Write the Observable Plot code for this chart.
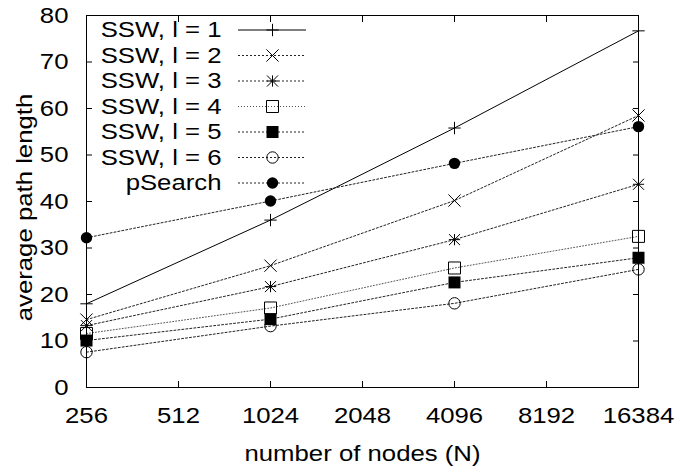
<!DOCTYPE html>
<html><head><meta charset="utf-8">
<script src="https://cdn.jsdelivr.net/npm/d3@7"></script>
<script src="https://cdn.jsdelivr.net/npm/@observablehq/plot@0.6"></script>
<style>html,body{margin:0;padding:0;background:#fff;}</style>
</head><body><div id="chart"></div>
<script>
// ---- data ----
const nodes = [256, 1024, 4096, 16384];
const xTicks = [256, 512, 1024, 2048, 4096, 8192, 16384];
const yTicks = [0, 10, 20, 30, 40, 50, 60, 70, 80];
const seriesNames = ["SSW, l = 1", "SSW, l = 2", "SSW, l = 3", "SSW, l = 4", "SSW, l = 5", "SSW, l = 6", "pSearch"];
const ssw1 = [18.0, 36.0, 55.8, 76.7];
const ssw2 = [14.6, 26.2, 40.2, 58.5];
const ssw3 = [13.3, 21.7, 31.8, 43.7];
const ssw4 = [11.6, 17.1, 25.7, 32.5];
const ssw5 = [10.1, 14.7, 22.6, 27.9];
const ssw6 = [7.6, 13.2, 18.1, 25.4];
const pSearch = [32.2, 40.1, 48.2, 56.1];
const xLabel = "number of nodes (N)";
const yLabel = "average path length";

// ---- styles ----
const seriesValues = [ssw1, ssw2, ssw3, ssw4, ssw5, ssw6, pSearch];
const dotStyles = [
  [{symbol: "plus", r: 4.07, fill: "none", stroke: "black"}],
  [{symbol: "times", r: 5.62, fill: "none", stroke: "black"}],
  [{symbol: "plus", r: 3.7, fill: "none", stroke: "black"}, {symbol: "times", r: 5.1, fill: "none", stroke: "black"}],
  [{symbol: "square", r: 6.77, fill: "none", stroke: "black"}],
  [{symbol: "square", r: 6.77, fill: "black", stroke: "none"}],
  [{symbol: "circle", r: 5.7, fill: "none", stroke: "black"}],
  [{symbol: "circle", r: 5.7, fill: "black", stroke: "none"}]
];
const dashes = [null, "2,2", "2,2", "1,2", "2,2", "2,2", "2,2"];
const lineColors = ["#000", "#222", "#222", "#555", "#222", "#222", "#222"];

const W = 680, H = 471, mL = 86, mR = 42, mT = 15, mB = 84;
const FONT = 22, SX = 1.17;

const xs = Plot.scale({x: {type: "log", base: 2, domain: [256, 16384], range: [mL, W - mR]}});
const ys = Plot.scale({y: {type: "linear", domain: [0, 80], range: [H - mB, mT]}});

const rows = seriesNames.map((name, s) => {
  const py = 29.5 + s * 25.5;
  return {name, y: ys.invert(py), xText: xs.invert(221), x1: xs.invert(238), x2: xs.invert(306), xm: xs.invert(272)};
});

const marks = [];
seriesNames.forEach((name, s) => {
  const pts = nodes.map((n, i) => ({n, v: seriesValues[s][i]}));
  const lineOpts = {stroke: lineColors[s], strokeWidth: 1};
  if (dashes[s]) lineOpts.strokeDasharray = dashes[s];
  marks.push(Plot.line(pts, {x: "n", y: "v", ...lineOpts}));
  marks.push(Plot.ruleY([rows[s]], {y: "y", x1: "x1", x2: "x2", ...lineOpts}));
});
seriesNames.forEach((name, s) => {
  const pts = nodes.map((n, i) => ({n, v: seriesValues[s][i]}));
  dotStyles[s].forEach(st => {
    marks.push(Plot.dot(pts, {x: "n", y: "v", strokeWidth: 1, ...st}));
    marks.push(Plot.dot([rows[s]], {x: "xm", y: "y", strokeWidth: 1, ...st}));
  });
});

const chart = Plot.plot({
  width: W, height: H,
  marginLeft: mL, marginRight: mR, marginTop: mT, marginBottom: mB,
  style: {fontFamily: "'Liberation Sans', Arial, Helvetica, sans-serif", fontSize: FONT + "px", background: "white", color: "black"},
  x: {type: "log", base: 2, domain: [256, 16384]},
  y: {type: "linear", domain: [0, 80]},
  marks: [
    Plot.axisX(xTicks, {anchor: "bottom", tickSize: -6, tickFormat: () => "", label: null}),
    Plot.axisX(xTicks, {anchor: "top", tickSize: -6, tickFormat: () => "", label: null}),
    Plot.axisY(yTicks, {anchor: "left", tickSize: -6, tickFormat: () => "", label: null}),
    Plot.axisY(yTicks, {anchor: "right", tickSize: -6, tickFormat: () => "", label: null}),
    Plot.axisX(xTicks, {anchor: "bottom", tickSize: 0, tickPadding: 20, tickFormat: d => String(d), label: null, fontSize: FONT}),
    Plot.axisY(yTicks, {anchor: "left", tickSize: 0, tickPadding: 18, tickFormat: d => String(d), label: null, fontSize: FONT}),
    Plot.text([xLabel], {text: d => d, frameAnchor: "bottom", dy: 73, lineAnchor: "bottom", textAnchor: "middle", fontSize: FONT}),
    Plot.text([yLabel], {text: d => d, frameAnchor: "left", rotate: -90, dx: -55, dy: 6, lineAnchor: "bottom", textAnchor: "middle", fontSize: FONT}),
    ...marks,
    Plot.text(rows, {x: "xText", y: "y", text: "name", textAnchor: "end", lineAnchor: "middle", fontSize: FONT}),
    Plot.frame({stroke: "black", strokeWidth: 1})
  ]
});

// widen glyphs to match the reference's wide sans face
chart.querySelectorAll("text").forEach(t => {
  const tr = t.getAttribute("transform") || "";
  const x = t.getAttribute("x");
  if (x != null && /^-?[\d.]+$/.test(x.trim())) t.setAttribute("x", (+x) / SX);
  t.setAttribute("transform", (tr + ` scale(${SX},1)`).trim());
});

document.getElementById("chart").appendChild(chart);
</script>
</body></html>
